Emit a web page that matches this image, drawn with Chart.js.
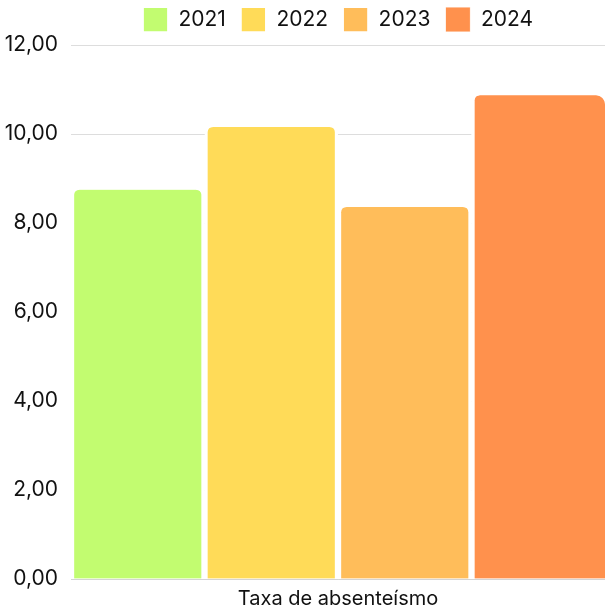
<!DOCTYPE html>
<html lang="pt">
<head>
    <meta charset="UTF-8">
    <title>Taxa de absenteísmo</title>
    <script src="https://cdn.jsdelivr.net/npm/chart.js"></script>
    <style>
        html, body {
            margin: 0;
            padding: 0;
            background: #fff;
        }

        .chart-container {
            width: 605px;
            height: 612px;
        }
    </style>
</head>
<body>
    <div class="chart-container">
        <canvas id="absence-chart"></canvas>
    </div>

    <script>
        // Data
        const categories = ['Taxa de absenteísmo'];
        const years = ['2021', '2022', '2023', '2024'];
        const rates = [8.75, 10.16, 8.36, 10.87];
        const colors = ['#C2FC70', '#FFDB58', '#FFBD5A', '#FF914D'];
        const yTicks = [0, 2, 4, 6, 8, 10, 12];

        const datasets = years.map((year, i) => ({
            label: year,
            data: [rates[i]],
            backgroundColor: colors[i],
            borderColor: '#ffffff',
            // white side borders make the gaps between the bars
            borderWidth: { left: 3.5, right: i === years.length - 1 ? 0 : 3.5, top: 0, bottom: 0 },
            borderRadius: { topLeft: 9, topRight: 9 },
            borderSkipped: false,
            categoryPercentage: 1,
            barPercentage: 1
        }));

        Chart.defaults.font.family = 'Inter, "Liberation Sans", sans-serif';
        Chart.defaults.color = '#111';

        // a little more room under the legend
        const legendGap = {
            id: 'legendGap',
            beforeInit(chart) {
                const fit = chart.legend.fit;
                chart.legend.fit = function () {
                    fit.bind(chart.legend)();
                    this.height += 3;
                };
            }
        };

        const ctx = document.getElementById('absence-chart').getContext('2d');
        new Chart(ctx, {
            type: 'bar',
            data: { labels: categories, datasets: datasets },
            plugins: [legendGap],
            options: {
                responsive: true,
                maintainAspectRatio: false,
                animation: false,
                layout: { padding: { top: -8, right: 0, left: 4, bottom: 0 } },
                plugins: {
                    legend: {
                        position: 'top',
                        fullSize: false,
                        labels: {
                            boxWidth: 25,
                            boxHeight: 25,
                            padding: 15,
                            font: { size: 21 }
                        }
                    },
                    tooltip: { enabled: false }
                },
                scales: {
                    x: {
                        grid: { display: false, drawTicks: false },
                        border: { display: true, color: '#d4d4d4' },
                        afterFit: axis => { axis.height = 33; },
                        ticks: { font: { size: 20 }, padding: 8 }
                    },
                    y: {
                        min: 0,
                        max: 12,
                        afterBuildTicks: axis => {
                            axis.ticks = yTicks.map(v => ({ value: v }));
                        },
                        afterFit: axis => { axis.width = 67; },
                        grid: { color: '#dddddd', drawTicks: false },
                        border: { display: false },
                        ticks: {
                            padding: 13,
                            font: { size: 21 },
                            callback: v => v.toFixed(2).replace('.', ',')
                        }
                    }
                }
            }
        });
    </script>
</body>
</html>
